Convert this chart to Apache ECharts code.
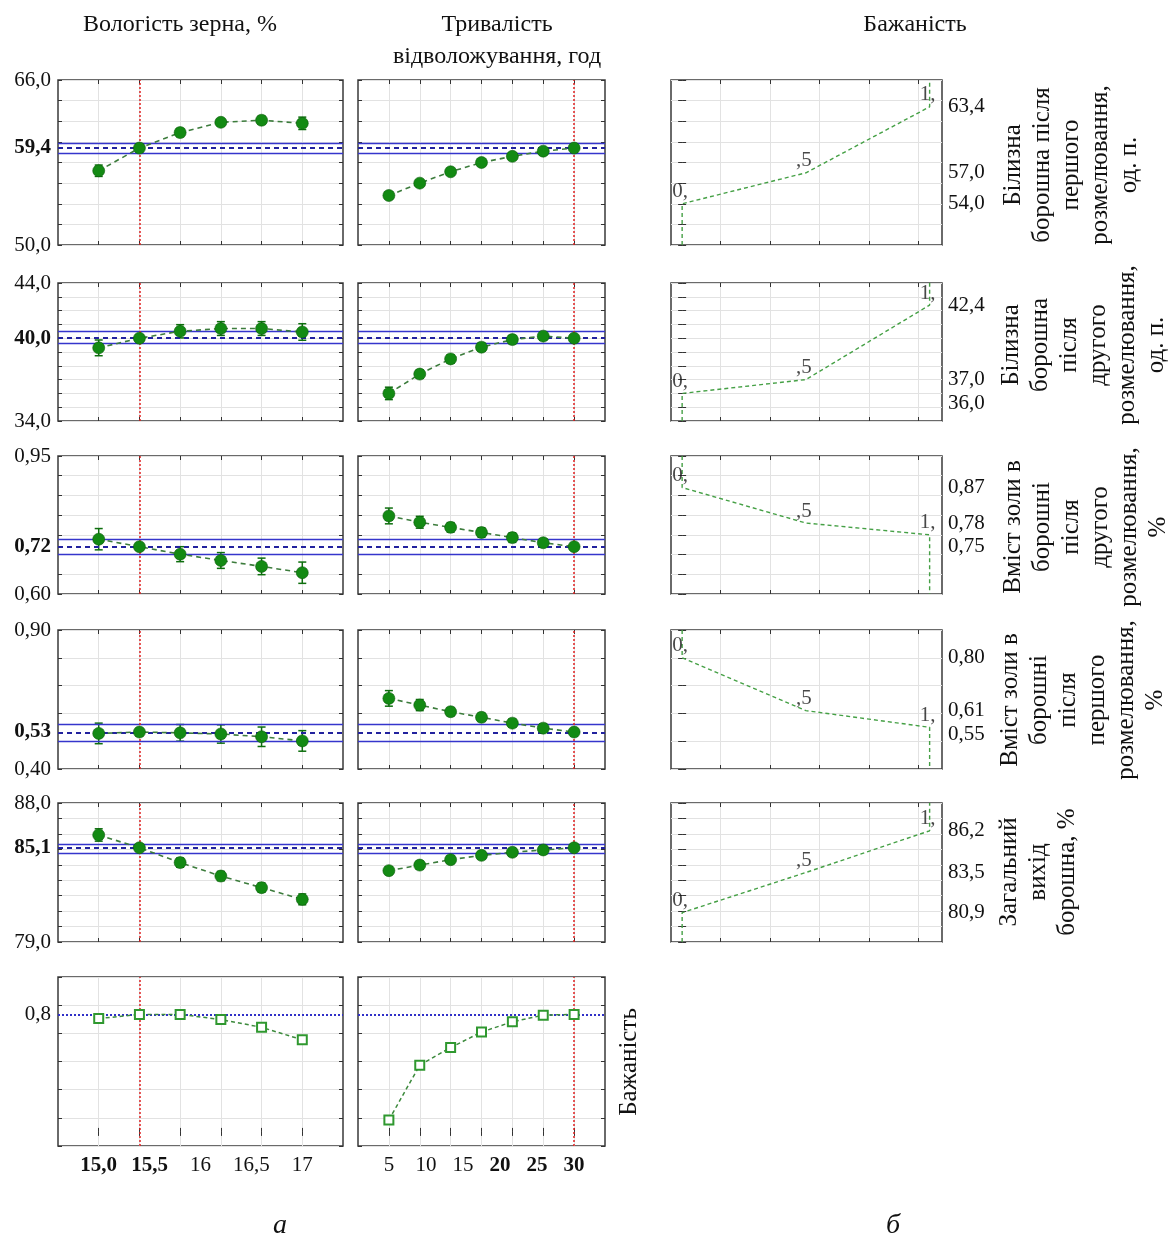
<!DOCTYPE html>
<html><head><meta charset="utf-8">
<script src="https://cdn.jsdelivr.net/npm/echarts@6/dist/echarts.min.js"></script>
<style>html,body{margin:0;padding:0;background:#fff}#c{width:1172px;height:1254px}</style>
</head><body><div id="c"></div>
<script>
// ---------------- DATA ----------------
// factor levels
const moistureLevels = [15.0, 15.4, 15.8, 16.2, 16.6, 17.0];
const moistureLabelValues = [15, 15.5, 16, 16.5, 17];
const moistureLabelText = ['15,0', '15,5', '16', '16,5', '17'];
const moistureLabelBold = [true, true, false, false, false];
const moistureOptimum = 15.4;

const timeLevels = [5, 9.1667, 13.3333, 17.5, 21.6667, 25.8333, 30];
const timeLabelValues = [5, 10, 15, 20, 25, 30];
const timeLabelText = ['5', '10', '15', '20', '25', '30'];
const timeLabelBold = [false, false, false, true, true, true];
const timeOptimum = 30;

// Response 1: whiteness after first milling
const white1Moisture = [57.2, 59.4, 60.9, 61.9, 62.1, 61.8];
const white1MoistureErr = [0.55, 0, 0.4, 0.32, 0.4, 0.6];
const white1Time = [54.8, 56.0, 57.1, 58.0, 58.6, 59.1, 59.4];
const white1TimeErr = [0.3, 0.3, 0.3, 0.3, 0.3, 0.3, 0];
const white1Pred = 59.4;
const white1CI = [58.9, 59.9];
const white1DesLevels = [54.0, 57.0, 63.4];

// Response 2: whiteness after second milling
const white2Moisture = [39.3, 40.0, 40.5, 40.7, 40.7, 40.45];
const white2MoistureErr = [0.57, 0, 0.48, 0.5, 0.5, 0.6];
const white2Time = [36.0, 37.4, 38.5, 39.35, 39.9, 40.15, 40.0];
const white2TimeErr = [0.45, 0.3, 0.3, 0.3, 0.3, 0.3, 0];
const white2Pred = 40.0;
const white2CI = [39.6, 40.5];
const white2DesLevels = [36.0, 37.0, 42.4];

// Response 3: ash content after second milling
const ash2Moisture = [0.739, 0.72, 0.701, 0.685, 0.670, 0.654];
const ash2MoistureErr = [0.027, 0, 0.019, 0.02, 0.021, 0.027];
const ash2Time = [0.798, 0.782, 0.769, 0.756, 0.743, 0.730, 0.72];
const ash2TimeErr = [0.02, 0.015, 0.012, 0.012, 0.012, 0.01, 0];
const ash2Pred = 0.72;
const ash2CI = [0.70, 0.74];
const ash2DesLevels = [0.87, 0.78, 0.75];

// Response 4: ash content after first milling
const ash1Moisture = [0.528, 0.533, 0.530, 0.526, 0.516, 0.501];
const ash1MoistureErr = [0.037, 0, 0.03, 0.033, 0.035, 0.037];
const ash1Time = [0.654, 0.630, 0.606, 0.586, 0.565, 0.547, 0.533];
const ash1TimeErr = [0.028, 0.02, 0.015, 0.015, 0.015, 0.015, 0];
const ash1Pred = 0.533;
const ash1CI = [0.504, 0.561];
const ash1DesLevels = [0.80, 0.61, 0.55];

// Response 5: total flour yield
const yieldMoisture = [85.93, 85.1, 84.14, 83.27, 82.52, 81.76];
const yieldMoistureErr = [0.4, 0, 0.3, 0.3, 0.3, 0.35];
const yieldTime = [83.62, 83.98, 84.33, 84.61, 84.81, 84.96, 85.1];
const yieldTimeErr = [0.25, 0.25, 0.25, 0.25, 0.25, 0.25, 0];
const yieldPred = 85.1;
const yieldCI = [84.75, 85.35];
const yieldDesLevels = [80.9, 83.5, 86.2];

// Desirability scores of the desirability functions
const desScores = [0, 0.5, 1];
const desScoreText = ['0,', ',5', '1,'];
const desTickValues = [0.155, 0.355, 0.555, 0.755, 0.955];

// Overall desirability profile
const desirMoisture = [0.805, 0.834, 0.834, 0.798, 0.743, 0.654];
const desirTime = [0.085, 0.474, 0.599, 0.709, 0.782, 0.829, 0.834];
const desirOverall = 0.834;

// Axis ranges per response row
const rowYMin = [50, 34, 0.60, 0.40, 79];
const rowYMax = [66, 44, 0.95, 0.90, 88];
const rowYStep = [2, 1, 0.05, 0.1, 1];
const rowDecimals = [1, 1, 2, 2, 1];

const rowTitles = [
  'Білизна\nборошна після\nпершого\nрозмелювання,\nод. п.',
  'Білизна\nборошна\nпісля\nдругого\nрозмелювання,\nод. п.',
  'Вміст золи в\nборошні\nпісля\nдругого\nрозмелювання,\n%',
  'Вміст золи в\nборошні\nпісля\nпершого\nрозмелювання,\n%',
  'Загальний\nвихід\nборошна, %'
];

// ---------------- BUILD ----------------
const rowsMoist = [white1Moisture, white2Moisture, ash2Moisture, ash1Moisture, yieldMoisture];
const rowsMoistErr = [white1MoistureErr, white2MoistureErr, ash2MoistureErr, ash1MoistureErr, yieldMoistureErr];
const rowsTime = [white1Time, white2Time, ash2Time, ash1Time, yieldTime];
const rowsTimeErr = [white1TimeErr, white2TimeErr, ash2TimeErr, ash1TimeErr, yieldTimeErr];
const rowsPred = [white1Pred, white2Pred, ash2Pred, ash1Pred, yieldPred];
const rowsCI = [white1CI, white2CI, ash2CI, ash1CI, yieldCI];
const rowsDes = [white1DesLevels, white2DesLevels, ash2DesLevels, ash1DesLevels, yieldDesLevels];

const FONT = '"Liberation Serif", "Times New Roman", serif';
const COLS = [{left: 58, width: 285}, {left: 358, width: 247}, {left: 671, width: 271}];
const ROWS = [{top: 80, height: 165}, {top: 283, height: 138}, {top: 456, height: 138},
              {top: 630, height: 139}, {top: 803, height: 139}, {top: 977, height: 169}];
const XRANGE = [{min: 14.6, max: 17.4}, {min: 0.8333, max: 34.1667}, {min: -0.045, max: 1.05}];

const GREEN = '#138a13';
const option = {animation: false, grid: [], xAxis: [], yAxis: [], series: [], graphic: []};

const fmt = (v, d) => v.toFixed(d).replace('.', ',');
const tickStyle = {color: '#333', width: 1};
function labelBase(extraRich) {
  return {color: '#111', fontFamily: FONT, fontSize: 21, hideOverlap: false,
    rich: Object.assign({b: {fontWeight: 'bold', fontFamily: FONT, fontSize: 21, color: '#111'}}, extraRich || {})};
}

function addCell(col, row, x, y) {
  const gi = option.grid.length;
  option.grid.push({left: COLS[col].left, width: COLS[col].width, top: ROWS[row].top, height: ROWS[row].height,
    show: true, borderColor: '#3a3a3a', borderWidth: 1.5, backgroundColor: 'transparent', containLabel: false});
  const xi = option.xAxis.length;
  option.xAxis.push({gridIndex: gi, type: 'value', position: 'bottom', min: x.min, max: x.max,
    axisLine: {show: false},
    axisTick: {show: true, inside: true, length: 4, customValues: x.ticks, lineStyle: tickStyle},
    splitLine: {show: true, lineStyle: {color: '#e2e2e2', width: 1}},
    axisLabel: x.labels ? Object.assign(labelBase(), {show: true, margin: 9, customValues: x.labels, formatter: x.fmt}) : {show: false}});
  option.xAxis.push({gridIndex: gi, type: 'value', position: 'top', min: x.min, max: x.max,
    axisLine: {show: false},
    axisTick: {show: true, inside: true, length: 4, customValues: x.ticks, lineStyle: tickStyle},
    splitLine: {show: false}, axisLabel: {show: false}});
  const yi = option.yAxis.length;
  option.yAxis.push({gridIndex: gi, type: 'value', position: 'left', min: y.min, max: y.max, interval: y.step,
    axisLine: {show: false},
    axisTick: {show: true, inside: true, length: 4, lineStyle: tickStyle},
    splitLine: {show: true, lineStyle: {color: '#e2e2e2', width: 1}},
    axisLabel: y.left ? Object.assign(labelBase(), {show: true, margin: 7, customValues: y.left, formatter: y.leftFmt}) : {show: false}});
  option.yAxis.push({gridIndex: gi, type: 'value', position: 'right', min: y.min, max: y.max, interval: y.step,
    axisLine: {show: false},
    axisTick: {show: true, inside: true, length: 4, lineStyle: tickStyle},
    splitLine: {show: false},
    axisLabel: y.right ? Object.assign(labelBase(y.rightRich), {show: true, margin: 6, customValues: y.right, formatter: y.rightFmt}) : {show: false}});
  return {xi, yi};
}

function errRender(params, api) {
  const x = api.value(0);
  const p1 = api.coord([x, api.value(1)]);
  const p2 = api.coord([x, api.value(2)]);
  const st = {stroke: '#0d6e0d', lineWidth: 1.5};
  const w = 4;
  return {type: 'group', children: [
    {type: 'line', shape: {x1: p1[0], y1: p1[1], x2: p2[0], y2: p2[1]}, style: st},
    {type: 'line', shape: {x1: p1[0] - w, y1: p1[1], x2: p1[0] + w, y2: p1[1]}, style: st},
    {type: 'line', shape: {x1: p2[0] - w, y1: p2[1], x2: p2[0] + w, y2: p2[1]}, style: st}
  ]};
}

function addProfile(ax, levels, vals, errs, pred, ci, opt) {
  const pts = levels.map((x, k) => [x, vals[k]]);
  option.series.push({type: 'line', xAxisIndex: ax.xi, yAxisIndex: ax.yi, data: pts, symbol: 'none',
    lineStyle: {opacity: 0}, silent: true, z: 1,
    markLine: {silent: true, symbol: ['none', 'none'], animation: false, label: {show: false},
      data: [
        {yAxis: ci[0], lineStyle: {color: '#3535cc', width: 1.3, type: 'solid'}},
        {yAxis: ci[1], lineStyle: {color: '#3535cc', width: 1.3, type: 'solid'}},
        {yAxis: pred, lineStyle: {color: '#22229e', width: 2, type: [5, 4]}},
        {xAxis: opt, lineStyle: {color: '#e02020', width: 1.5, type: [2, 2]}}
      ]}});
  const eb = [];
  levels.forEach((x, k) => { if (errs[k] > 0) eb.push([x, vals[k] - errs[k], vals[k] + errs[k]]); });
  option.series.push({type: 'custom', xAxisIndex: ax.xi, yAxisIndex: ax.yi, data: eb,
    encode: {x: 0, y: [1, 2]}, renderItem: errRender, silent: true, z: 3});
  option.series.push({type: 'line', xAxisIndex: ax.xi, yAxisIndex: ax.yi, data: pts,
    symbol: 'circle', symbolSize: 12, itemStyle: {color: GREEN, borderColor: '#0a5c0a', borderWidth: 0.6},
    lineStyle: {color: '#3c7c3c', width: 1.6, type: [5, 4]}, silent: true, z: 5});
}

function addDesirabilityFn(ax, levels, yMin, yMax) {
  const rising = levels[0] < levels[2];
  const curve = [[desScores[0], rising ? yMin : yMax]]
    .concat(desScores.map((d, k) => [d, levels[k]]))
    .concat([[desScores[2], rising ? yMax : yMin]]);
  option.series.push({type: 'line', xAxisIndex: ax.xi, yAxisIndex: ax.yi, data: curve, symbol: 'none',
    lineStyle: {color: '#45a045', width: 1.4, type: [4, 3]}, silent: true, z: 4});
  option.series.push({type: 'scatter', xAxisIndex: ax.xi, yAxisIndex: ax.yi,
    data: desScores.map((d, k) => [d, levels[k]]), symbolSize: 1, itemStyle: {color: 'rgba(0,0,0,0)'},
    silent: true, z: 5,
    label: {show: true, position: 'top', distance: 1, offset: [-2, 0], color: '#1a1a1a', fontFamily: FONT, fontSize: 21,
      formatter: p => desScoreText[p.dataIndex]}});
}

// Right-side labels: push apart labels that would collide (shift lower label down)
function rightLabelLayout(levels, row, dec) {
  const pxPerUnit = ROWS[row].height / (rowYMax[row] - rowYMin[row]);
  const sorted = levels.slice().sort((a, b) => b - a);
  const MIN_GAP = 24;
  const shifts = {};
  let prevPx = -1e9;
  sorted.forEach(v => {
    let px = (rowYMax[row] - v) * pxPerUnit;
    let s = 0;
    if (px - prevPx < MIN_GAP) { s = MIN_GAP - (px - prevPx); }
    shifts[fmt(v, dec)] = s;
    prevPx = px + s;
  });
  const rich = {};
  const formatter = v => {
    const t = fmt(v, dec);
    const s = shifts[t] || 0;
    if (s > 0.5) {
      const key = 's' + Math.round(s);
      return '{' + key + '|' + t + '}';
    }
    return t;
  };
  Object.keys(shifts).forEach(t => {
    const s = shifts[t];
    if (s > 0.5) rich['s' + Math.round(s)] = {fontFamily: FONT, fontSize: 21, color: '#111', padding: [Math.round(2 * s), 0, 0, 0]};
  });
  return {formatter, rich};
}

const xMoist = {min: XRANGE[0].min, max: XRANGE[0].max, ticks: moistureLevels};
const xTime = {min: XRANGE[1].min, max: XRANGE[1].max, ticks: timeLevels};
const xDes = {min: XRANGE[2].min, max: XRANGE[2].max, ticks: desTickValues};

for (let r = 0; r < 5; r++) {
  const dec = rowDecimals[r], pred = rowsPred[r];
  const yCfg = {min: rowYMin[r], max: rowYMax[r], step: rowYStep[r]};
  const leftFmt = v => {
    const t = fmt(v, dec);
    return Math.abs(v - pred) < 1e-9 ? '{b|' + t + '}' : t;
  };
  const axA = addCell(0, r, xMoist, Object.assign({left: [rowYMin[r], pred, rowYMax[r]], leftFmt}, yCfg));
  addProfile(axA, moistureLevels, rowsMoist[r], rowsMoistErr[r], pred, rowsCI[r], moistureOptimum);
  const axB = addCell(1, r, xTime, yCfg);
  addProfile(axB, timeLevels, rowsTime[r], rowsTimeErr[r], pred, rowsCI[r], timeOptimum);
  const rl = rightLabelLayout(rowsDes[r], r, dec);
  const axC = addCell(2, r, xDes, Object.assign({right: rowsDes[r].slice(), rightFmt: rl.formatter, rightRich: rl.rich}, yCfg));
  addDesirabilityFn(axC, rowsDes[r], rowYMin[r], rowYMax[r]);
}

// Row 6: overall desirability
function boldFmt(values, text, bold) {
  return v => {
    const k = values.findIndex(u => Math.abs(u - v) < 1e-6);
    if (k < 0) return '';
    return bold[k] ? '{b|' + text[k] + '}' : text[k];
  };
}
const yDes = {min: -0.1, max: 1.1, step: 0.2};
function addDesProfile(ax, levels, vals, opt) {
  option.series.push({type: 'line', xAxisIndex: ax.xi, yAxisIndex: ax.yi, data: levels.map((x, k) => [x, vals[k]]),
    symbol: 'emptyRect', symbolSize: 9, itemStyle: {color: '#2f982f', borderWidth: 1.5},
    lineStyle: {color: '#3c8a3c', width: 1.5, type: [4, 3]}, silent: true, z: 5,
    markLine: {silent: true, symbol: ['none', 'none'], animation: false, label: {show: false},
      data: [
        {yAxis: desirOverall, lineStyle: {color: '#3030c8', width: 2, type: [2, 2]}},
        {xAxis: opt, lineStyle: {color: '#e02020', width: 1.5, type: [2, 2]}}
      ]}});
}
const ax6a = addCell(0, 5, Object.assign({labels: moistureLabelValues, fmt: boldFmt(moistureLabelValues, moistureLabelText, moistureLabelBold)}, xMoist),
  Object.assign({left: [desirOverall], leftFmt: v => fmt(v, 1)}, yDes));
addDesProfile(ax6a, moistureLevels, desirMoisture, moistureOptimum);
const ax6b = addCell(1, 5, Object.assign({labels: timeLabelValues, fmt: boldFmt(timeLabelValues, timeLabelText, timeLabelBold)}, xTime), yDes);
addDesProfile(ax6b, timeLevels, desirTime, timeOptimum);

// ---------------- TEXT ----------------
function txt(text, x, y, font) {
  option.graphic.push({type: 'text', x, y, silent: true,
    style: {text, fill: '#111', font: font + ' ' + FONT, align: 'center', verticalAlign: 'middle'}});
}
txt('Вологість зерна, %', 180, 25, '24px');
txt('Тривалість', 497, 25, '24px');
txt('відволожування, год', 497, 57, '24px');
txt('Бажаність', 915, 25, '24px');

const titleX = [1071, 1084, 1086, 1083, 1038];
const titleY = [165, 345, 527, 700, 872];
rowTitles.forEach((t, r) => {
  option.graphic.push({type: 'text', x: titleX[r], y: titleY[r], rotation: Math.PI / 2, silent: true,
    style: {text: t, fill: '#111', font: '25px ' + FONT, align: 'center', verticalAlign: 'middle', lineHeight: 29}});
});
option.graphic.push({type: 'text', x: 629, y: 1062, rotation: Math.PI / 2, silent: true,
  style: {text: 'Бажаність', fill: '#111', font: '25px ' + FONT, align: 'center', verticalAlign: 'middle'}});

txt('а', 280, 1226, 'italic 28px');
txt('б', 893, 1226, 'italic 28px');

const chart = echarts.init(document.getElementById('c'), null, {renderer: 'canvas'});
chart.setOption(option);
</script></body></html>
